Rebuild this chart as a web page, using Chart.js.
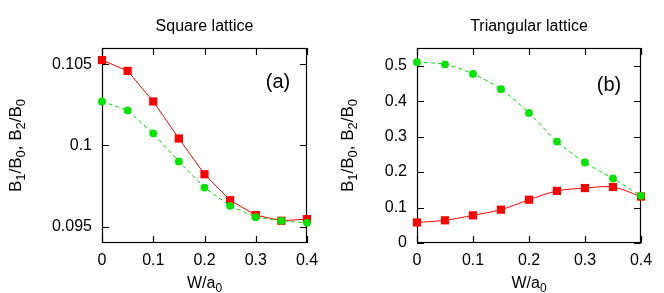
<!DOCTYPE html>
<html><head><meta charset="utf-8">
<script src="https://cdn.jsdelivr.net/npm/chart.js@4.4.0/dist/chart.umd.min.js"></script>
<style>
html,body{margin:0;padding:0;background:#fff;}
#wrap{position:relative;width:664px;height:293px;overflow:hidden;}
.c{position:absolute;top:0;width:332px;height:293px;}
</style></head><body>
<div id="wrap">
<div class="c" style="left:0"><canvas id="ca" width="332" height="293"></canvas></div>
<div class="c" style="left:332px"><canvas id="cb" width="332" height="293"></canvas></div>
</div>
<script>
// ---- data ----
const wValues = [0, 0.05, 0.1, 0.15, 0.2, 0.25, 0.3, 0.35, 0.4];
const squareRed   = [0.10526, 0.10459, 0.10271, 0.10043, 0.09823, 0.09663, 0.09572, 0.09537, 0.09547];
const squareGreen = [0.10271, 0.10216, 0.10075, 0.09902, 0.09741, 0.09629, 0.09559, 0.09537, 0.09524];
const triRed      = [0.058, 0.064, 0.078, 0.094, 0.122, 0.147, 0.155, 0.158, 0.131];
const triGreen    = [0.510, 0.504, 0.477, 0.434, 0.367, 0.286, 0.227, 0.182, 0.133];
const xTicks = [0, 0.1, 0.2, 0.3, 0.4];
const squareYTicks = [0.095, 0.1, 0.105];
const triYTicks = [0, 0.1, 0.2, 0.3, 0.4, 0.5];
const titles = ["Square lattice", "Triangular lattice"];
const panelTags = ["(a)", "(b)"];

const RED = '#ff0000';
const GREEN = 'rgb(0,228,0)';
const FONT = '"Liberation Sans", Arial, Helvetica, sans-serif';

function toPts(xs, ys) { return xs.map((x, i) => ({x: x, y: ys[i]})); }

function drawRich(ctx, segs, x, y, size, subSize, subShift) {
  let cx = x;
  segs.forEach(s => {
    ctx.font = (s.sub ? subSize : size) + 'px ' + FONT;
    ctx.fillText(s.t, cx, y + (s.sub ? subShift : 0));
    cx += ctx.measureText(s.t).width;
  });
}
function richWidth(ctx, segs, size, subSize) {
  let w = 0;
  segs.forEach(s => { ctx.font = (s.sub ? subSize : size) + 'px ' + FONT; w += ctx.measureText(s.t).width; });
  return w;
}

const yLabelSegs = [{t:'B'},{t:'1',sub:1},{t:'/B'},{t:'0',sub:1},{t:', B'},{t:'2',sub:1},{t:'/B'},{t:'0',sub:1}];
const xLabelSegs = [{t:'W/a'},{t:'0',sub:1}];

function framePlugin(yTicks) {
  return {
    id: 'frame',
    beforeDatasetsDraw(chart) {
      const ctx = chart.ctx, a = chart.chartArea;
      const xs = chart.scales.x, ys = chart.scales.y;
      ctx.save();
      ctx.strokeStyle = '#000';
      ctx.lineWidth = 1.2;
      ctx.strokeRect(a.left + 0.5, a.top + 0.5, a.right - a.left - 1, a.bottom - a.top - 1);
      const L = 7;
      ctx.beginPath();
      xTicks.forEach(v => {
        const px = Math.round(xs.getPixelForValue(v)) + 0.5;
        ctx.moveTo(px, a.bottom); ctx.lineTo(px, a.bottom - L);
        ctx.moveTo(px, a.top); ctx.lineTo(px, a.top + L);
      });
      yTicks.forEach(v => {
        const py = Math.round(ys.getPixelForValue(v)) + 0.5;
        ctx.moveTo(a.left, py); ctx.lineTo(a.left + L, py);
        ctx.moveTo(a.right, py); ctx.lineTo(a.right - L, py);
      });
      ctx.stroke();
      ctx.restore();
    }
  };
}

function textPlugin(idx) {
  return {
    id: 'texts',
    afterDraw(chart) {
      const ctx = chart.ctx, a = chart.chartArea;
      const cx = (a.left + a.right) / 2;
      ctx.save();
      ctx.fillStyle = '#000';
      ctx.textBaseline = 'alphabetic';
      ctx.font = '16px ' + FONT;
      ctx.textAlign = 'center';
      ctx.fillText(titles[idx], cx, 31);
      ctx.font = '20px ' + FONT;
      ctx.textAlign = 'center';
      ctx.textBaseline = 'middle';
      ctx.fillText(panelTags[idx], idx === 0 ? 278 : 277, idx === 0 ? 82 : 85);
      ctx.textBaseline = 'alphabetic';
      ctx.textAlign = 'left';
      const wx = richWidth(ctx, xLabelSegs, 16, 12);
      drawRich(ctx, xLabelSegs, cx - wx / 2, 288, 16, 12, 4);
      const cy = (a.top + a.bottom) / 2;
      ctx.translate(21, cy);
      ctx.rotate(-Math.PI / 2);
      const wy = richWidth(ctx, yLabelSegs, 17, 13);
      drawRich(ctx, yLabelSegs, -wy / 2, 0, 17, 13, 4);
      ctx.restore();
    }
  };
}

function makeChart(id, idx, red, green, yTicks, yMin, yMax, leftW, rightPad, tension) {
  return new Chart(document.getElementById(id), {
    type: 'line',
    data: {
      datasets: [
        { data: toPts(wValues, green), borderColor: GREEN, backgroundColor: GREEN,
          borderWidth: 1, borderDash: [4, 3], pointStyle: 'circle', pointRadius: 3.9,
          pointBorderWidth: 0, tension: tension, order: 0 },
        { data: toPts(wValues, red), borderColor: RED, backgroundColor: RED,
          borderWidth: 1, pointStyle: 'rect', pointRadius: 5.8,
          pointBorderWidth: 0, tension: tension, order: 1 }
      ]
    },
    options: {
      responsive: false, animation: false, devicePixelRatio: 1,
      clip: false,
      layout: { padding: { left: 0, right: rightPad, top: 48, bottom: 0 } },
      plugins: { legend: { display: false }, tooltip: { enabled: false } },
      scales: {
        x: {
          type: 'linear', min: 0, max: 0.4,
          grid: { display: false, drawTicks: false }, border: { display: false },
          afterBuildTicks: s => { s.ticks = xTicks.map(v => ({ value: v })); },
          afterFit: s => { s.height = 50; },
          ticks: { color: '#000', padding: 8, maxRotation: 0, font: { size: 16, family: FONT },
                   callback: v => String(v) }
        },
        y: {
          type: 'linear', min: yMin, max: yMax,
          grid: { display: false, drawTicks: false }, border: { display: false },
          afterBuildTicks: s => { s.ticks = yTicks.map(v => ({ value: v })); },
          afterFit: s => { s.width = leftW; },
          ticks: { color: '#000', padding: 10, font: { size: 16, family: FONT },
                   callback: v => String(v) }
        }
      }
    },
    plugins: [framePlugin(yTicks), textPlugin(idx)]
  });
}

makeChart('ca', 0, squareRed, squareGreen, squareYTicks, 0.094, 0.106, 102, 25, 0);
makeChart('cb', 1, triRed, triGreen, triYTicks, 0, 0.55, 85, 23, 0.3);
</script>
</body></html>
